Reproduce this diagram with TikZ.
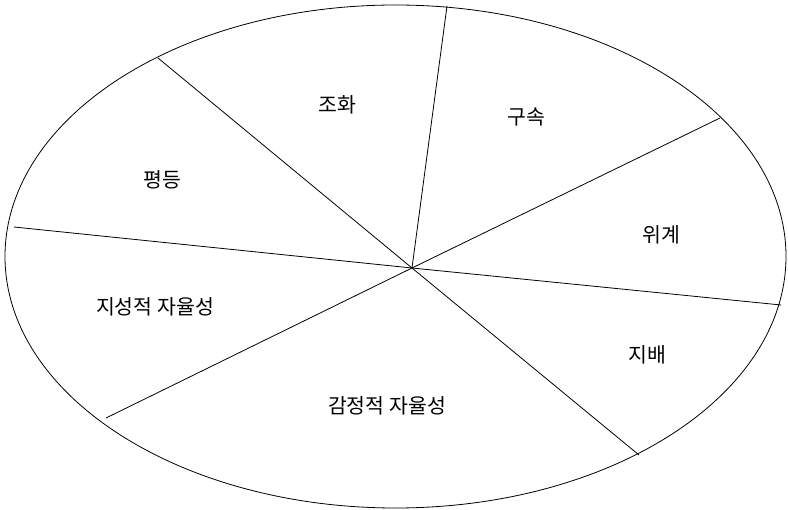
\documentclass[tikz,border=0pt]{standalone}
\usepackage{fontspec}
\setmainfont{Noto Sans CJK KR}
\begin{document}
\begin{tikzpicture}[
    x=1pt, y=-1pt, line width=.8pt,
    every node/.style={font=\fontsize{20.5}{22}\selectfont}]
    \useasboundingbox (0,0) rectangle (788,510);
    \draw (395.5,256.5) ellipse [x radius=390.5, y radius=251.5];
    \coordinate (hub) at (412,268);
    \coordinate (p1) at (158,58);
    \coordinate (p2) at (447,6);
    \coordinate (p3) at (720,118);
    \coordinate (p4) at (781,305);
    \coordinate (p5) at (639,455);
    \coordinate (p6) at (106,418);
    \coordinate (p7) at (14,227);
    \foreach \p in {p1,p2,p3,p4,p5,p6,p7}
        \draw (hub) -- (\p);
    \node (harmony) at (337,105) {조화};
    \node (equality) at (162,180) {평등};
    \node (embedded) at (526,117) {구속};
    \node (hierarchy) at (661,235) {위계};
    \node (intellectual) at (155,307) {지성적 자율성};
    \node (affective) at (387,406) {감정적 자율성};
    \node (mastery) at (647,355) {지배};
\end{tikzpicture}
\end{document}
